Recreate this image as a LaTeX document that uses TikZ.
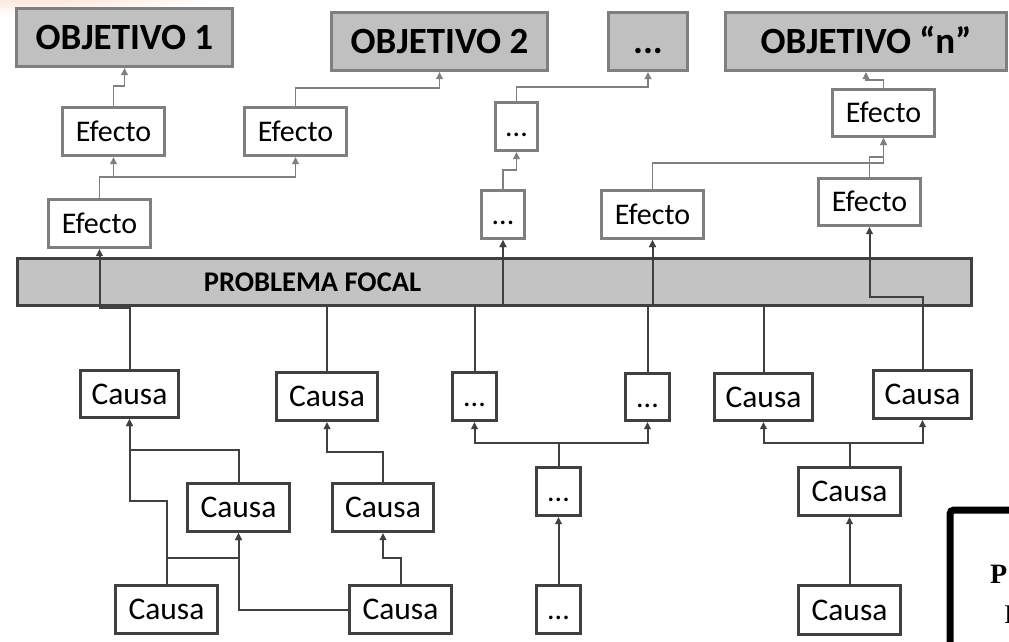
\documentclass[tikz,border=0pt]{standalone}
\usepackage{fontspec}
\setmainfont{Carlito}
\newfontfamily\serifb{Liberation Serif}
\usetikzlibrary{arrows.meta,calc}
\definecolor{objfill}{HTML}{C0C0C0}
\definecolor{barfill}{HTML}{C3C3C3}
\definecolor{grayb}{HTML}{7F7F7F}
\definecolor{grayl}{HTML}{808080}
\definecolor{darkb}{HTML}{404040}
\definecolor{glow}{RGB}{240,150,100}
\begin{document}
\begin{tikzpicture}[x=1pt,y=-1pt,
  box/.style={draw, line width=3pt, fill=white, inner sep=0pt, text depth=0pt, anchor=center},
  obj/.style={box, draw=grayb, fill=objfill, minimum height=58pt, text height=23.8pt,
    font=\fontsize{37}{40}\selectfont\bfseries},
  eff/.style={box, draw=grayb, minimum width=102pt, minimum height=48pt, text height=19.3pt,
    font=\fontsize{30}{32}\selectfont},
  gdots/.style={eff, minimum width=42pt},
  cause/.style={box, draw=darkb, minimum width=99pt, minimum height=48pt, text height=20pt,
    font=\fontsize{31.5}{33}\selectfont},
  ddots/.style={cause, minimum width=44pt, font=\fontsize{30}{32}\selectfont},
  gcon/.style={draw=grayl, line width=1.8pt, -{Triangle[length=7pt,width=6.5pt]}},
  dcon/.style={draw=darkb, line width=2pt, -{Triangle[length=7pt,width=6.5pt]}}
]
\useasboundingbox (0,0) rectangle (1009,641);
\clip (0,0) rectangle (1009,641);
\fill[white] (0,0) rectangle (1009,641);
\shade[inner color=glow!60, outer color=white] (40,-28) ellipse (230 and 44);

% focal problem bar
\node[draw=darkb, line width=2.5pt, fill=barfill, minimum width=954pt, minimum height=47pt, inner sep=0pt] (bar) at (494.5,282) {};
\node[inner sep=0pt, anchor=center, text height=18.3pt, text depth=0pt, font=\fontsize{28.5}{30}\selectfont\bfseries] (pf) at (312.5,282.5) {PROBLEMA FOCAL};

% objectives
\node[obj, minimum width=216pt] (obj1) at (124.5,37.5) {OBJETIVO 1};
\node[obj, minimum width=216pt] (obj2) at (439.5,41.5) {OBJETIVO 2};
\node[obj, minimum width=79pt] (obj3) at (648,41.5) {...};
\node[obj, minimum width=281pt] (objn) at (866,41.5) {OBJETIVO “n”};

% effects
\node[eff] (effA) at (113.5,131.5) {Efecto};
\node[eff] (effB) at (295.5,131.5) {Efecto};
\node[eff] (effC) at (99.5,223.5) {Efecto};
\node[gdots] (dotU) at (516.5,126.5) {...};
\node[gdots, minimum width=43pt] (dotL) at (503,214.5) {...};
\node[eff] (effD) at (652.5,214.5) {Efecto};
\node[eff, minimum height=47pt] (effE) at (883.5,113) {Efecto};
\node[eff, minimum height=47pt] (effF) at (869.5,202) {Efecto};

% causes
\node[cause, minimum width=98pt, minimum height=47pt] (c1) at (129.5,394) {Causa};
\node[cause, minimum width=101pt] (c2) at (327,396.5) {Causa};
\node[ddots] (da) at (474.5,396.5) {...};
\node[ddots, minimum height=47pt] (db) at (647.5,397) {...};
\node[cause, minimum width=98pt, minimum height=47pt] (c3) at (763.5,397) {Causa};
\node[cause, minimum width=98pt] (c4) at (922.5,394.5) {Causa};
\node[cause, minimum width=102pt] (c5) at (238.5,507.5) {Causa};
\node[cause, minimum width=101pt] (c6) at (383,507.5) {Causa};
\node[ddots] (dc) at (558.5,491.5) {...};
\node[cause, minimum width=102pt] (c7) at (849.5,491.5) {Causa};
\node[cause, minimum width=102pt] (c8) at (166.5,609.5) {Causa};
\node[cause, minimum width=102pt] (c9) at (400.5,609.5) {Causa};
\node[ddots] (dd) at (558.5,609.5) {...};
\node[cause, minimum width=102pt, minimum height=49pt] (c10) at (849.5,610) {Causa};

% bend levels
\coordinate (lvA) at (0,86);
\coordinate (lvB) at (0,88);
\coordinate (lvC) at (0,177);
\coordinate (lvD) at (0,170);
\coordinate (lvE) at (0,87);
\coordinate (lvF) at (0,163);
\coordinate (lvG) at (0,157);
\coordinate (lvH) at (0,80);
\coordinate (lv1) at (0,308);
\coordinate (lv2) at (0,305);
\coordinate (lv3) at (0,297);
\coordinate (lv4) at (0,450);
\coordinate (lv5) at (0,501);
\coordinate (lv6) at (0,558);
\coordinate (lv7) at (0,452);
\coordinate (lv8) at (0,443);

% effect connectors (gray)
\draw[gcon] (effA.north) -- (effA.north |- lvA) -| (obj1.south);
\draw[gcon] (effB.north) -- (effB.north |- lvB) -| (obj2.south);
\draw[gcon] (effC.north) -- (effC.north |- lvC) -| (effA.south);
\draw[gcon] (effC.north |- lvC) -| (effB.south);
\draw[gcon] (dotL.north) -- (dotL.north |- lvD) -| (dotU.south);
\draw[gcon] (dotU.north) -- (dotU.north |- lvE) -| (obj3.south);
\draw[gcon] (effD.north) -- (effD.north |- lvF) -| (effE.south);
\draw[gcon] (effF.north) -- (effF.north |- lvG) -| (effE.south);
\draw[gcon] (effE.north) -- (effE.north |- lvH) -| (objn.south);

% cause connectors (dark)
\draw[dcon] (c1.north) -- (c1.north |- lv1) -| (effC.south);
\draw[dcon] (c2.north) -- (c2.north |- lv2) -| (dotL.south);
\draw[dcon] (da.north) -- (da.north |- lv2) -| (dotL.south);
\draw[dcon] (db.north) -- (db.north |- lv2) -| (effD.south);
\draw[dcon] (c3.north) -- (c3.north |- lv2) -| (effD.south);
\draw[dcon] (c4.north) -- (c4.north |- lv3) -| (effF.south);
\draw[dcon] (c5.north) -- (c5.north |- lv4) -| (c1.south);
\draw[dcon] (c8.north) -- (c8.north |- lv5) -| (c1.south);
\draw[dcon] (c8.north) -- (c8.north |- lv6) -| (c5.south);
\draw[dcon] (c9.west) -| (c5.south);
\draw[dcon] (c9.north) -- (c9.north |- lv6) -| (c6.south);
\draw[dcon] (c6.north) -- (c6.north |- lv7) -| (c2.south);
\draw[dcon] (dc.north) -- (dc.north |- lv8) -| (da.south);
\draw[dcon] (dc.north) -- (dc.north |- lv8) -| (db.south);
\draw[dcon] (dd.north) -- (dc.south);
\draw[dcon] (c10.north) -- (c7.south);
\draw[dcon] (c7.north) -- (c7.north |- lv8) -| (c3.south);
\draw[dcon] (c7.north) -- (c7.north |- lv8) -| (c4.south);

% clipped box at bottom right
\draw[line width=7pt, rounded corners=4pt] (950,660) -- (950,510) -- (1040,510);
\node[anchor=base west, inner sep=0pt, font=\serifb\bfseries\fontsize{28}{30}\selectfont] (pt) at (990,583.5) {P};
\node[anchor=base west, inner sep=0pt, font=\serifb\fontsize{27}{30}\selectfont] (it) at (1004,623) {I};
\end{tikzpicture}
\end{document}
